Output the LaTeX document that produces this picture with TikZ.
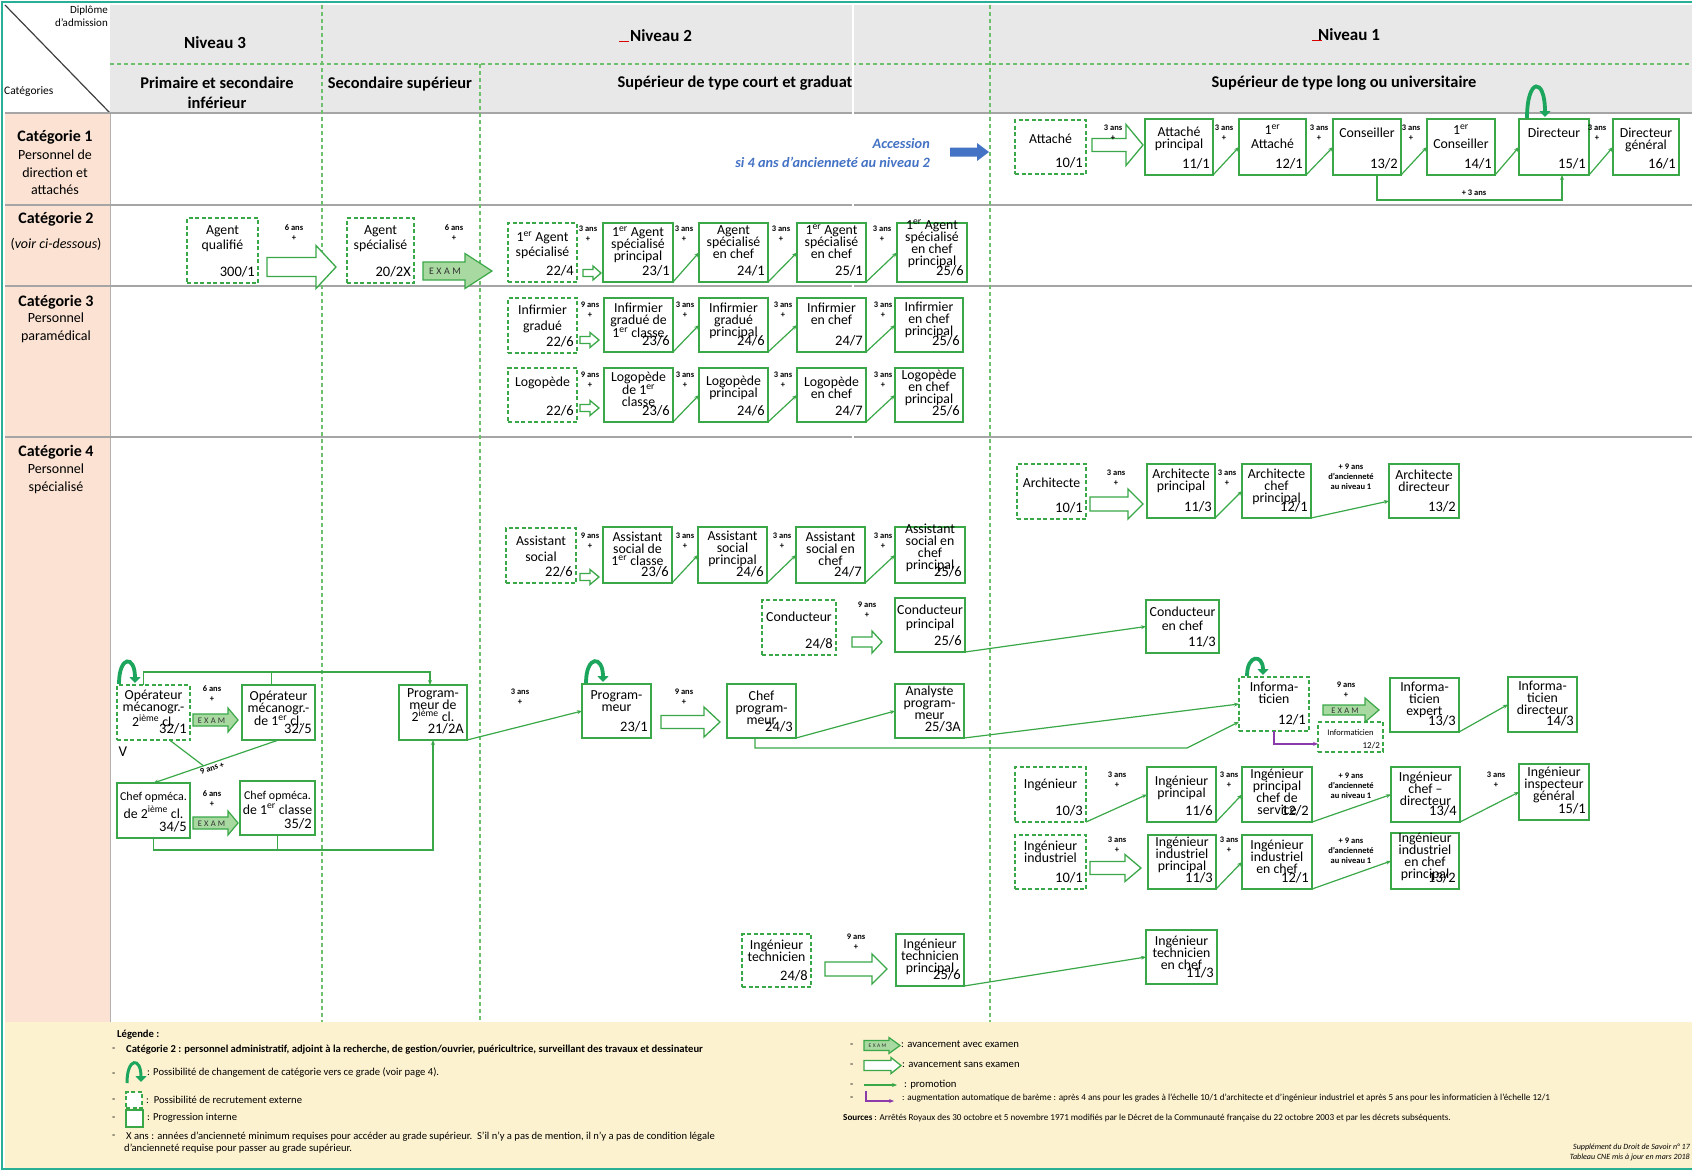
\documentclass[tikz,border=0pt]{standalone}
\usepackage{fontspec}
\setmainfont{Carlito}
\usetikzlibrary{arrows.meta,calc}
\definecolor{gcol}{RGB}{58,168,72}
\definecolor{dgcol}{RGB}{110,192,110}
\definecolor{exfill}{RGB}{168,217,160}
\definecolor{lcol}{RGB}{28,165,92}
\definecolor{hdr}{RGB}{232,232,232}
\definecolor{salmon}{RGB}{251,226,210}
\definecolor{beige}{RGB}{253,242,208}
\definecolor{teal1}{RGB}{40,175,150}
\definecolor{blu}{RGB}{68,114,196}
\definecolor{purp}{RGB}{140,60,170}
\definecolor{rowg}{RGB}{165,165,165}
\tikzset{
 gb/.style={draw=gcol, line width=1.4pt, fill=white, inner sep=0pt, outer sep=0pt},
 db/.style={draw=gcol, line width=1.4pt, dash pattern=on 4pt off 2.5pt, fill=white, inner sep=0pt, outer sep=0pt},
 btxt/.style={font=\fontsize{13.8}{12}\selectfont, align=center, inner sep=0pt},
 bnum/.style={font=\fontsize{14.5}{14.5}\selectfont, anchor=base east, inner sep=0pt},
 yrs/.style={font=\bfseries\fontsize{8.5}{10}\selectfont, align=center, inner sep=0pt},
 promo/.style={draw=gcol, line width=1.2pt, -{Stealth[length=5pt,width=4pt]}},
 pline/.style={draw=gcol, line width=1.2pt},
 purparr/.style={draw=purp, line width=1.3pt, -{Stealth[length=5pt,width=4pt]}},
 harr/.style={draw=gcol, line width=1.3pt, fill=white},
 earr/.style={draw=gcol, line width=1.2pt, fill=exfill},
 loopa/.style={draw=lcol, line width=3.8pt, -{Triangle[length=6pt,width=11pt]}},
 cat/.style={font=\bfseries\fontsize{16}{18}\selectfont, inner sep=0pt},
 catsub/.style={font=\fontsize{14}{17.5}\selectfont, align=center, inner sep=0pt},
 hd/.style={font=\bfseries\fontsize{17}{20}\selectfont, inner sep=0pt, align=center},
 shd/.style={font=\bfseries\fontsize{16.4}{20}\selectfont, inner sep=0pt, align=center},
 leg/.style={font=\fontsize{10.6}{12}\selectfont, anchor=west, inner sep=0pt},
 legb/.style={font=\bfseries\fontsize{10.6}{12}\selectfont, anchor=west, inner sep=0pt},
 legr/.style={font=\fontsize{10.7}{12}\selectfont, anchor=west, inner sep=0pt},
 acc/.style={font=\bfseries\itshape\fontsize{14.3}{16}\selectfont, text=blu, inner sep=0pt},
}
\newcommand{\gbx}[9]{%
  \node[#1, minimum width={(#5)-(#3)}, minimum height={(#6)-(#4)}] (#2) at ({((#3)+(#5))/2},{((#4)+(#6))/2}) {};
  \node[btxt] (#2t) at ({((#3)+(#5))/2},#7) {#8};
  \node[bnum] (#2n) at ({(#5)-3},{(#6)-6.5}) {#9};
}
\newcommand{\harrow}[7]{%
  \draw[harr] (#2,#4-#5) -- (#7,#4-#5) -- (#7,#4-#6) -- (#3,#4) -- (#7,#4+#6) -- (#7,#4+#5) -- (#2,#4+#5) -- cycle;
  \coordinate (#1) at ({((#2)+(#3))/2},#4);
}
\newcommand{\earrow}[8]{%
  \draw[earr] (#2,#4-#5) -- (#7,#4-#5) -- (#7,#4-#6) -- (#3,#4) -- (#7,#4+#6) -- (#7,#4+#5) -- (#2,#4+#5) -- cycle;
  \node[font=\fontsize{#8}{#8}\selectfont, text=black!80, inner sep=0pt] (#1) at ({((#2)+(#7))/2+1},#4+0.5) {E\kern0.25em X\kern0.25em A\kern0.25em M};
}
\begin{document}
\begin{tikzpicture}[x=1pt,y=-1pt]
\useasboundingbox (0,0) rectangle (1692,1171);
% backgrounds
\fill[white] (0,0) rectangle (1692,1171);
\fill[hdr] (110,5) rectangle (1692,113);
\fill[salmon] (5,113) rectangle (110,1022);
\fill[beige] (5,1022) rectangle (1692,1168);
\draw[line width=1.2pt, black!75] (5,5) -- (110,113);
\draw[gray!60, line width=0.8pt] (110,113) -- (110,1022);
% row lines
\foreach \yy in {113,205,286,437} { \draw[rowg, line width=1.6pt] (5,\yy) -- (1692,\yy); }
% dashed separators
\draw[dgcol, line width=1.3pt, dash pattern=on 4pt off 3pt] (110,64) -- (1692,64);
\draw[dgcol, line width=1.3pt, dash pattern=on 4pt off 3pt] (322,5) -- (322,1022);
\draw[dgcol, line width=1.3pt, dash pattern=on 4pt off 3pt] (480,64) -- (480,1022);
\draw[dgcol, line width=1.3pt, dash pattern=on 4pt off 3pt] (990,5) -- (990,1022);
% outer border
\draw[teal1, line width=1.6pt] (1692,2) -- (2,2) -- (2,1169) -- (1692,1169);
% header texts
\node[font=\fontsize{11}{13}\selectfont, align=right, anchor=north east, inner sep=0pt] (hdip) at (108,6) {Diplôme\\d’admission};
\node[font=\fontsize{11.5}{13}\selectfont, anchor=west, inner sep=0pt] (hcat) at (4,92) {Catégories};
\node[hd] (hn3) at (215,43) {Niveau 3};
\node[hd] (hn2) at (661,36) {Niveau 2};
\node[hd] (hn1) at (1349,35) {Niveau 1};
\draw[red!85!black, line width=0.6pt] (619,41) -- (629,41);
\draw[red!85!black, line width=0.6pt] (1312,40) -- (1322,40);
\node[shd] (hs1) at (217,93) {Primaire et secondaire\\inférieur};
\node[shd] (hs2) at (400,84) {Secondaire supérieur};
\node[shd] (hs3) at (735,83) {Supérieur de type court et graduat};
\node[shd] (hs4) at (1344,83) {Supérieur de type long ou universitaire};
% categories
\node[cat] (c1) at (55,137) {Catégorie 1};
\node[catsub] (c1s) at (55,172.5) {Personnel de\\direction et\\attachés};
\node[cat] (c2) at (56,219) {Catégorie 2};
\node[catsub] (c2s) at (56,244) {(\textit{voir ci-dessous})};
\node[cat] (c3) at (56,302) {Catégorie 3};
\node[catsub] (c3s) at (56,328) {Personnel\\paramédical};
\node[cat] (c4) at (56,452) {Catégorie 4};
\node[catsub] (c4s) at (56,479) {Personnel\\spécialisé};

% white artefact line
\draw[white, line width=1.2pt] (853,5) -- (853,1020);

% ===== Category 1 =====
\gbx{db}{A1}{1015}{120}{1086}{174}{139}{Attaché}{10/1}
\gbx{gb}{A2}{1145}{119}{1213}{175}{138.5}{Attaché\\principal}{11/1}
\gbx{gb}{A3}{1239}{119}{1306}{175}{137}{1\textsuperscript{er}\\[2pt]Attaché}{12/1}
\gbx{gb}{A4}{1333}{119}{1401}{175}{133}{Conseiller}{13/2}
\gbx{gb}{A5}{1427}{119}{1495}{175}{137}{1\textsuperscript{er}\\[2pt]Conseiller}{14/1}
\gbx{gb}{A6}{1519}{119}{1589}{175}{133}{Directeur}{15/1}
\gbx{gb}{A7}{1613}{119}{1679}{175}{139.5}{Directeur\\général}{16/1}
\harrow{AR1}{1092}{1143}{145}{6.5}{20.5}{1126}
\node[yrs] (y1) at (1113,133) {3 ans\\+};
\node[yrs] (y2) at (1224,133) {3 ans\\+};
\node[yrs] (y3) at (1319,133) {3 ans\\+};
\node[yrs] (y4) at (1411,133) {3 ans\\+};
\node[yrs] (y5) at (1597,133) {3 ans\\+};
\draw[promo] (A2.south east) -- (A3.west);
\draw[promo] (A3.south east) -- (A4.west);
\draw[promo] (A4.south east) -- (A5.west);
\draw[promo] (A5.south east) -- (A6.west);
\draw[promo] (A6.south east) -- (A7.west);
\draw[promo] ([xshift=10pt]A4.south) -- ++(0,25) -| ([xshift=8pt]A6.south);
\node[yrs] (y6) at (1474,193) {+ 3 ans};
\draw[loopa] (1527,118) .. controls (1527,77) and (1545,77) .. (1545,117);
\node[acc, anchor=east] (acc1) at (930,144) {Accession};
\node[acc, anchor=east] (acc2) at (930,162) {si 4 ans d’ancienneté au niveau 2};
\fill[blu] (950,147.5) -- (977,147.5) -- (977,143) -- (989,152) -- (977,161) -- (977,156.5) -- (950,156.5) -- cycle;

% ===== Category 2 =====
\gbx{db}{B1}{187}{218}{258}{283}{238.5}{Agent\\[3pt]qualifié}{300/1}
\gbx{db}{B2}{347}{218}{414}{283}{238.5}{Agent\\[3pt]spécialisé}{20/2X}
\gbx{db}{B3}{508}{223}{577}{282}{245}{1\textsuperscript{er} Agent\\[3pt]spécialisé}{22/4}
\gbx{gb}{B4}{603}{223}{673}{282}{245}{1\textsuperscript{er} Agent\\spécialisé\\principal}{23/1}
\gbx{gb}{B5}{699}{223}{768}{282}{242}{Agent\\spécialisé\\en chef}{24/1}
\gbx{gb}{B6}{797}{223}{866}{282}{242}{1\textsuperscript{er} Agent\\spécialisé\\en chef}{25/1}
\gbx{gb}{B7}{897}{223}{967}{282}{244}{\fontsize{13.8}{10.5}\selectfont 1\textsuperscript{er} Agent\\spécialisé\\en chef\\principal}{25/6}
\harrow{AR2}{267}{336}{267}{9.5}{21.5}{316}
\earrow{EX1}{423}{492}{271}{9}{17.5}{465}{10}
\harrow{AR3}{583}{601}{273}{3.5}{7}{593}
\node[yrs] (y7) at (294,233) {6 ans\\+};
\node[yrs] (y8) at (454,233) {6 ans\\+};
\node[yrs] (y9) at (588,234) {3 ans\\+};
\node[yrs] (y10) at (684,234) {3 ans\\+};
\node[yrs] (y11) at (781,234) {3 ans\\+};
\node[yrs] (y12) at (882,234) {3 ans\\+};
\draw[promo] (B4.south east) -- (B5.west);
\draw[promo] (B5.south east) -- (B6.west);
\draw[promo] (B6.south east) -- (B7.west);

% ===== Category 3 =====
\gbx{db}{C1}{508}{298}{577}{353}{319}{Infirmier\\[4pt]gradué}{22/6}
\gbx{gb}{C2}{604}{298}{673}{352}{320.5}{Infirmier\\gradué de\\1\textsuperscript{er} classe}{23/6}
\gbx{gb}{C3}{699}{298}{768}{352}{320.5}{Infirmier\\gradué\\principal}{24/6}
\gbx{gb}{C4}{797}{298}{866}{352}{314}{Infirmier\\en chef}{24/7}
\gbx{gb}{C5}{895}{298}{963}{352}{320}{Infirmier\\en chef\\principal}{25/6}
\harrow{AR4}{580}{599}{340}{3.5}{7.5}{590}
\node[yrs] (y13) at (590,310) {9 ans\\+};
\node[yrs] (y14) at (685,310) {3 ans\\+};
\node[yrs] (y15) at (783,310) {3 ans\\+};
\node[yrs] (y16) at (883,310) {3 ans\\+};
\draw[promo] (C2.south east) -- (C3.west);
\draw[promo] (C3.south east) -- (C4.west);
\draw[promo] (C4.south east) -- (C5.west);

\gbx{db}{D1}{508}{368}{577}{422}{383}{Logopède}{22/6}
\gbx{gb}{D2}{604}{368}{673}{422}{389.5}{Logopède\\de 1\textsuperscript{er}\\classe}{23/6}
\gbx{gb}{D3}{699}{368}{768}{422}{388}{Logopède\\principal}{24/6}
\gbx{gb}{D4}{797}{368}{866}{422}{388}{Logopède\\en chef}{24/7}
\gbx{gb}{D5}{895}{368}{963}{422}{388}{\fontsize{13.8}{11}\selectfont Logopède\\en chef\\principal}{25/6}
\harrow{AR5}{580}{599}{408}{3.5}{7.5}{590}
\node[yrs] (y17) at (590,380) {9 ans\\+};
\node[yrs] (y18) at (685,380) {3 ans\\+};
\node[yrs] (y19) at (783,380) {3 ans\\+};
\node[yrs] (y20) at (883,380) {3 ans\\+};
\draw[promo] (D2.south east) -- (D3.west);
\draw[promo] (D3.south east) -- (D4.west);
\draw[promo] (D4.south east) -- (D5.west);

% ===== Category 4 =====
\gbx{db}{E1}{1017}{464}{1086}{519}{483}{Architecte}{10/1}
\gbx{gb}{E2}{1147}{464}{1215}{518}{481}{Architecte\\principal}{11/3}
\gbx{gb}{E3}{1242}{464}{1311}{518}{487}{Architecte\\chef\\principal}{12/1}
\gbx{gb}{E4}{1389}{464}{1459}{518}{481}{Architecte\\directeur}{13/2}
\harrow{AR6}{1090}{1143}{504}{7}{15}{1128}
\node[yrs] (y21) at (1116,478) {3 ans\\+};
\node[yrs] (y22) at (1227,478) {3 ans\\+};
\node[yrs] (y23) at (1351,477) {+ 9 ans\\d’ancienneté\\au niveau 1};
\draw[promo] (E2.south east) -- (E3.west);
\draw[promo] (E3.south east) -- ([yshift=-10pt]E4.west);

\gbx{db}{F1}{506}{528}{576}{583}{549}{Assistant\\[4pt]social}{22/6}
\gbx{gb}{F2}{603}{527}{672}{583}{549}{Assistant\\social de\\1\textsuperscript{er} classe}{23/6}
\gbx{gb}{F3}{698}{527}{767}{583}{549}{Assistant\\social\\principal}{24/6}
\gbx{gb}{F4}{796}{527}{865}{583}{549}{Assistant\\social en\\chef}{24/7}
\gbx{gb}{F5}{895}{527}{965}{583}{547.5}{\fontsize{13.8}{10.5}\selectfont Assistant\\social en\\chef\\principal}{25/6}
\harrow{AR7}{580}{599}{577}{3.5}{7.5}{590}
\node[yrs] (y24) at (590,541) {9 ans\\+};
\node[yrs] (y25) at (685,541) {3 ans\\+};
\node[yrs] (y26) at (782,541) {3 ans\\+};
\node[yrs] (y27) at (883,541) {3 ans\\+};
\draw[promo] (F2.south east) -- (F3.west);
\draw[promo] (F3.south east) -- (F4.west);
\draw[promo] (F4.south east) -- (F5.west);

\gbx{db}{G1}{762}{600}{836}{655}{617}{Conducteur}{24/8}
\gbx{gb}{G2}{895}{598}{965}{652}{617.5}{Conducteur\\[2pt]principal}{25/6}
\gbx{gb}{G3}{1146}{600}{1219}{653}{618.5}{Conducteur\\[2pt]en chef}{11/3}
\harrow{AR8}{852}{882}{642}{5}{11}{872}
\node[yrs] (y28) at (867,610) {9 ans\\+};
\draw[promo] (G2.south east) -- (G3.west);

% operateurs
\gbx{db}{H1}{117}{685}{190}{740}{708.5}{Opérateur\\mécanogr.-\\2\textsuperscript{ième} cl.}{32/1}
\gbx{gb}{H2}{242}{685}{315}{740}{708.5}{Opérateur\\mécanogr.-\\de 1\textsuperscript{er} cl.}{32/5}
\earrow{EX2}{193}{238}{720}{6}{12}{228}{8.5}
\node[yrs] (y29) at (212,694) {6 ans\\+};
\gbx{gb}{H3}{117}{783}{190}{838}{805}{\fontsize{12}{12}\selectfont Chef opméca.\\[3pt]de 2\textsuperscript{ième} cl.}{34/5}
\gbx{gb}{H4}{240}{781}{315}{835}{802.5}{\fontsize{12}{12}\selectfont Chef opméca.\\[3pt]de 1\textsuperscript{er} classe}{35/2}
\earrow{EX3}{193}{238}{823}{6}{12}{228}{8.5}
\node[yrs] (y30) at (212,799) {6 ans\\+};
\node[font=\fontsize{15}{15}\selectfont, inner sep=0pt] (vv) at (123,752) {V};

% programmeurs
\gbx{gb}{P2}{399}{685}{467}{740}{705}{Program-\\meur de\\2\textsuperscript{ième} cl.}{21/2A}
\gbx{gb}{P3}{582}{684}{651}{738}{701}{Program-\\meur}{23/1}
\gbx{gb}{P4}{727}{684}{796}{738}{707.5}{\fontsize{13.8}{10.5}\selectfont Chef\\program-\\meur}{24/3}
\gbx{gb}{P5}{895}{684}{964}{738}{702.5}{\fontsize{13.8}{8}\selectfont Analyste\\program-\\meur}{25/3A}
\harrow{AR9}{661}{720}{722}{6.5}{15}{704}
\node[yrs] (y31) at (520,697) {3 ans\\+};
\node[yrs] (y32) at (684,697) {9 ans\\+};

% informaticiens
\gbx{db}{I1}{1239}{677}{1309}{731}{692.5}{Informa-\\ticien}{12/1}
\node[db, line width=1.2pt, minimum width=65, minimum height=30] (I2) at (1350.5,737) {};
\node[font=\fontsize{8.5}{9}\selectfont, inner sep=0pt] (I2t) at (1350.5,733) {Informaticien};
\node[font=\fontsize{9}{9}\selectfont, anchor=base east, inner sep=0pt] (I2n) at (1380,748) {12/2};
\earrow{EX4}{1323}{1379}{710}{5}{12}{1365}{8.5}
\node[yrs] (y33) at (1346,690) {9 ans\\+};
\gbx{gb}{I3}{1390}{678}{1459}{732}{700}{Informa-\\ticien\\expert}{13/3}
\gbx{gb}{I4}{1508}{677}{1577}{732}{698}{Informa-\\ticien\\directeur}{14/3}

% connectors cat 4 left
\draw[promo] ([xshift=-10pt]H1.north) -- ++(0,-13) -| ([xshift=-3pt]P2.north);
\draw[pline] ([xshift=-7pt]H2.north) -- ++(0,-13);
\draw[promo] (H2.south) -- (H3.north);
\coordinate (H12m) at ($(H2.south)!0.6!(H3.north)$);
\draw[pline] ([xshift=16pt]H1.south) -- (H12m);
\node[yrs, rotate=18, fill=white, inner sep=0.5pt] (y34) at (212,768) {9 ans +};
\draw[promo] (H3.south) -- ++(0,12) -| (P2.south);
\draw[pline] (H4.south) -- ++(0,15);
\draw[promo] (P2.south east) -- (P3.west);
\draw[promo] (P4.south east) -- (P5.west);
\draw[promo] (P5.south east) -- (I1.west);
\coordinate (bend1) at (1187,748);
\coordinate (I1in) at ($(I1.south west)!0.17!(I1.north west)$);
\draw[promo] ([xshift=-6.5pt]P4.south) -- ++(0,10) -- (bend1) -- (I1in);
\coordinate (I2in) at ($(I2.south west)!0.27!(I2.north west)$);
\draw[purparr] (I1.south) |- (I2in);
\draw[promo] (I3.south east) -- (I4.west);

% ingenieurs
\gbx{db}{J1}{1015}{767}{1086}{822}{785}{Ingénieur}{10/3}
\gbx{gb}{J2}{1147}{767}{1216}{822}{787.5}{Ingénieur\\principal}{11/6}
\gbx{gb}{J3}{1242}{767}{1312}{822}{792}{\fontsize{13.8}{11.3}\selectfont Ingénieur\\principal\\chef de\\service}{12/2}
\gbx{gb}{J4}{1391}{767}{1460}{822}{788.5}{Ingénieur\\chef –\\directeur}{13/4}
\gbx{gb}{J5}{1519}{764}{1589}{820}{785}{Ingénieur\\inspecteur\\général}{15/1}
\node[yrs] (y35) at (1117,780) {3 ans\\+};
\node[yrs] (y36) at (1229,780) {3 ans\\+};
\node[yrs] (y37) at (1351,786) {+ 9 ans\\d’ancienneté\\au niveau 1};
\node[yrs] (y38) at (1496,780) {3 ans\\+};
\draw[promo] (J1.south east) -- (J2.west);
\draw[promo] (J2.south east) -- (J3.west);
\draw[promo] (J3.south east) -- (J4.west);
\draw[promo] (J4.south east) -- (J5.west);

\gbx{db}{K1}{1015}{835}{1086}{889}{851.5}{Ingénieur\\industriel}{10/1}
\gbx{gb}{K2}{1148}{835}{1216}{889}{855}{Ingénieur\\industriel\\principal}{11/3}
\gbx{gb}{K3}{1242}{835}{1312}{889}{857}{Ingénieur\\industriel\\en chef}{12/1}
\gbx{gb}{K4}{1391}{833}{1459}{889}{856.5}{\fontsize{13.8}{11}\selectfont Ingénieur\\industriel\\en chef\\principal}{13/2}
\harrow{AR10}{1090}{1141}{868}{6.5}{13.5}{1125}
\node[yrs] (y39) at (1117,845) {3 ans\\+};
\node[yrs] (y40) at (1229,845) {3 ans\\+};
\node[yrs] (y41) at (1351,851) {+ 9 ans\\d’ancienneté\\au niveau 1};
\draw[promo] (K2.south east) -- (K3.west);
\draw[promo] (K3.south east) -- (K4.west);

\gbx{db}{T1}{742}{934}{811}{987}{950.5}{Ingénieur\\technicien}{24/8}
\gbx{gb}{T2}{896}{934}{964}{986}{956.5}{Ingénieur\\technicien\\principal}{25/6}
\gbx{gb}{T3}{1146}{930}{1217}{984}{953}{Ingénieur\\technicien\\en chef}{11/3}
\harrow{AR11}{825}{887}{969}{7}{15}{872}
\node[yrs] (y42) at (856,942) {9 ans\\+};
\draw[promo] (T2.south east) -- (T3.west);

% loops
\draw[loopa] (119,684) .. controls (119,655) and (135,655) .. (135,683);
\draw[loopa] (586,683) .. controls (586,655) and (603,655) .. (603,682);
\draw[loopa] (1247,676) .. controls (1247,654) and (1263,654) .. (1263,675);

% ===== Legend left =====
\node[legb] (lg0) at (117,1035) {Légende :};
\node[leg] (lgd1) at (112,1050) {-};
\node[legb] (lg1) at (126,1050) {Catégorie 2 : personnel administratif, adjoint à la recherche, de gestion/ouvrier, puéricultrice, surveillant des travaux et dessinateur};
\node[leg] (lgd2) at (112,1075) {-};
\draw[loopa, line width=3pt] (127,1083) .. controls (127,1057) and (141,1057) .. (141,1082);
\node[leg] (lg2) at (147,1073) {: Possibilité de changement de catégorie vers ce grade (voir page 4).};
\node[leg] (lgd3) at (112,1101) {-};
\node[db, line width=1.2pt, minimum width=16, minimum height=16] (lgb1) at (134,1100) {};
\node[leg] (lg3) at (146,1100) {:\ \ Possibilité de recrutement externe};
\node[leg] (lgd4) at (112,1119) {-};
\node[gb, line width=1.2pt, minimum width=17, minimum height=17] (lgb2) at (134.5,1118.5) {};
\node[leg] (lg4) at (147,1118) {: Progression interne};
\node[leg] (lgd5) at (112,1137) {-};
\node[leg] (lg5) at (126,1137) {X ans : années d’ancienneté minimum requises pour accéder au grade supérieur.\ \ S’il n’y a pas de mention, il n’y a pas de condition légale};
\node[leg] (lg6) at (124,1149) {d’ancienneté requise pour passer au grade supérieur.};

% ===== Legend right =====
\node[leg] (rgd1) at (850,1046) {-};
\earrow{lgE}{864}{900}{1045.5}{5}{8}{889}{5.5}
\node[legr] (rg1) at (901,1044) {: avancement avec examen};
\node[leg] (rgd2) at (850,1066) {-};
\harrow{lgH}{864}{901}{1065.5}{5}{8}{891}
\node[legr] (rg2) at (902,1064) {: avancement sans examen};
\node[leg] (rgd3) at (850,1086) {-};
\coordinate (lgp1) at (864,1085);
\coordinate (lgp2) at (897,1085);
\draw[promo] (lgp1) -- (lgp2);
\node[legr] (rg3) at (904,1085) {: promotion};
\node[leg] (rgd4) at (850,1099) {-};
\coordinate (lgq1) at (866,1091);
\coordinate (lgq2) at (894,1101);
\draw[purparr] (lgq1) |- (lgq2);
\node[leg, font=\fontsize{9.15}{10}\selectfont] (rg4) at (902,1098) {: augmentation automatique de barème : après 4 ans pour les grades à l’échelle 10/1 d’architecte et d’ingénieur industriel et après 5 ans pour les informaticien à l’échelle 12/1};
\node[leg, font=\fontsize{9.1}{10}\selectfont] (rg5) at (843,1118) {\textbf{Sources} : Arrêtés Royaux des 30 octobre et 5 novembre 1971 modifiés par le Décret de la Communauté française du 22 octobre 2003 et par les décrets subséquents.};
\node[font=\itshape\fontsize{8}{10}\selectfont, align=right, anchor=east, inner sep=0pt] (rg6) at (1690,1152) {Supplément du Droit de Savoir n° 17\\Tableau CNE mis à jour en mars 2018};
\end{tikzpicture}
\end{document}
